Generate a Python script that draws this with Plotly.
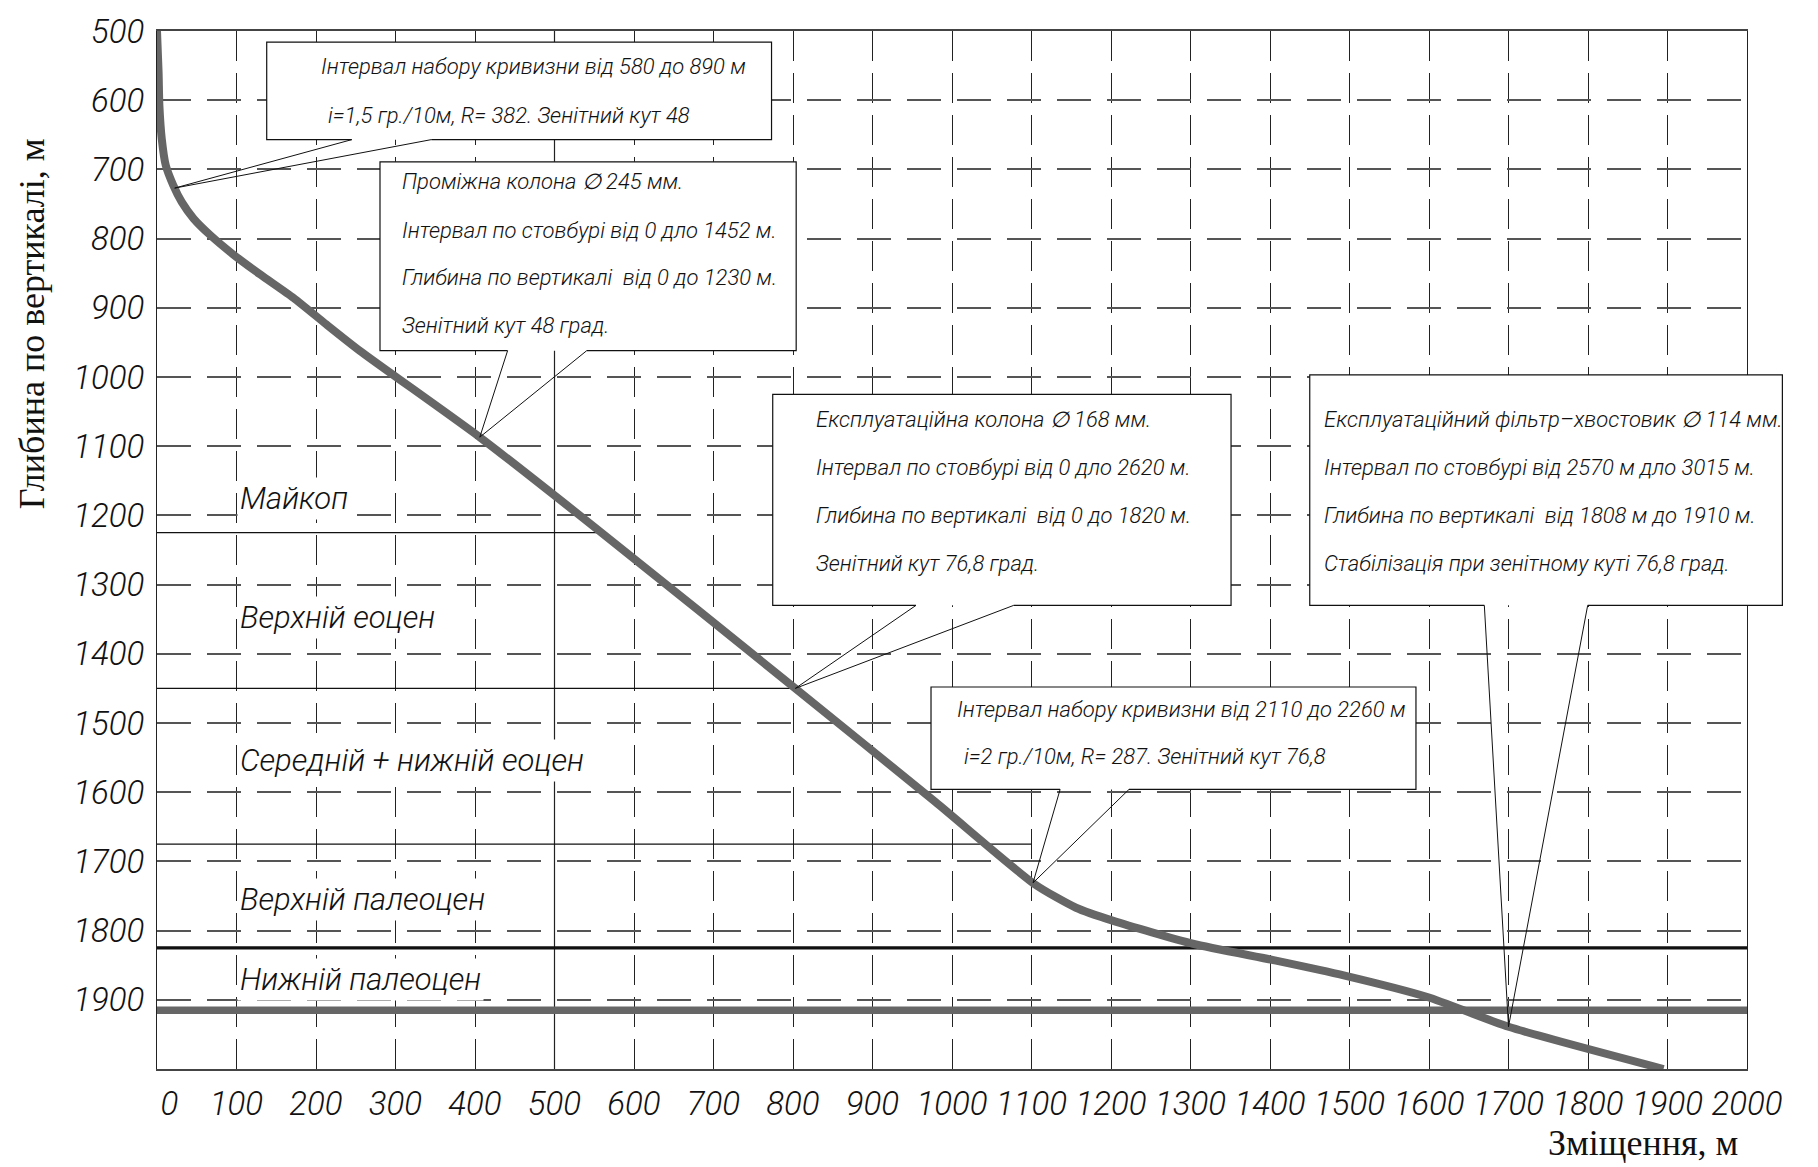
import numpy as np
import plotly.graph_objects as go

# ---- Well trajectory: horizontal offset (m) vs true vertical depth (m) ----
offset_m = [0, 2, 3, 6, 11, 20.5, 31, 46, 67, 96, 130, 172, 213, 255, 406, 557,
            804, 979, 1104, 1156, 1203, 1303, 1406, 1494, 1598, 1700, 1895]
depth_m = [500, 560, 608, 656, 694, 723, 747, 771, 795, 823, 852, 886, 924, 962, 1087, 1223,
           1451, 1614, 1733, 1767, 1786, 1819, 1843, 1865, 1896, 1939, 2000]

# ---- Stratigraphy ----
formation_names = ["Майкоп", "Верхній еоцен", "Середній + нижній еоцен",
                   "Верхній палеоцен", "Нижній палеоцен"]
formation_label_depth = [1175, 1348, 1554, 1755, 1871]
formation_label_offset = [100, 100, 100, 100, 100]
formation_base_depth = [1225, 1450, 1675, 1825, 1915]
formation_base_extent = [557, 804, 1100, 2000, 2000]

# ---- Axis ticks ----
x_ticks = list(range(0, 2001, 100))
x_ticktext = ["\u2007\u20090"] + [str(v) for v in x_ticks[1:]]
y_ticks = list(range(500, 1901, 100))
X_RANGE = [0, 2000]
Y_RANGE = [2000, 500]

# ---- Callouts (text, tip depth on the trajectory) ----
callout_text = [
    ["Інтервал набору кривизни від 580 до 890 м",
     "і=1,5 гр./10м, R= 382. Зенітний кут 48"],
    ["Проміжна колона ∅ 245 мм.",
     "Інтервал по стовбурі від 0 дло 1452 м.",
     "Глибина по вертикалі\u00a0 від 0 до 1230 м.",
     "Зенітний кут 48 град."],
    ["Експлуатаційна колона ∅ 168 мм.",
     "Інтервал по стовбурі від 0 дло 2620 м.",
     "Глибина по вертикалі\u00a0 від 0 до 1820 м.",
     "Зенітний кут 76,8 град."],
    ["Експлуатаційний фільтр–хвостовик ∅ 114 мм.",
     "Інтервал по стовбурі від 2570 м дло 3015 м.",
     "Глибина по вертикалі\u00a0 від 1808 м до 1910 м.",
     "Стабілізація при зенітному куті 76,8 град."],
    ["Інтервал набору кривизни від 2110 до 2260 м",
     "і=2 гр./10м, R= 287. Зенітний кут 76,8"],
]
callout_tip_depth = [727, 1087, 1450, 1939, 1731]

# Callout box placement (axis units)
box_x0 = [138, 280.5, 774.5, 1450, 973.6]
box_x1 = [773, 804, 1351, 2044.5, 1583.6]
box_top = [516, 689, 1025, 997, 1448]
box_bottom = [657, 962, 1330, 1330, 1596]
box_base_a = [245, 441, 954.7, 1669.6, 1136]
box_base_b = [345, 540.5, 1077.6, 1799.6, 1222.6]
text_x = [[203.5, 213], [306] * 4, [826.5] * 4, [1465] * 4, [1004, 1012.6]]
text_y = [[551, 622], [717, 789, 856, 925], [1061, 1131, 1200, 1269],
          [1061, 1131, 1200, 1269], [1480, 1548]]

CAD_FONT = "Roboto, 'Open Sans', 'Liberation Sans', sans-serif"
SERIF_FONT = "'Liberation Serif', 'DejaVu Serif', serif"


def xp(v):
    """Axis value -> paper fraction along x."""
    return (v - X_RANGE[0]) / (X_RANGE[1] - X_RANGE[0])


def yp(v):
    """Axis value -> paper fraction along y (reversed axis)."""
    return (Y_RANGE[0] - v) / (Y_RANGE[0] - Y_RANGE[1])


fig = go.Figure()

# Formation boundaries
for i, d in enumerate(formation_base_depth):
    if i == 3:
        style = dict(color="#111111", width=3.2)
    elif i == 4:
        style = dict(color="#666666", width=7.5)
    else:
        style = dict(color="#111111", width=1.2)
    fig.add_trace(go.Scatter(x=[0, formation_base_extent[i]], y=[d, d], mode="lines",
                             line=style, hoverinfo="skip", showlegend=False))

# Trajectory
fig.add_trace(go.Scatter(x=offset_m, y=depth_m, mode="lines",
                         line=dict(color="#666666", width=8, shape="spline", smoothing=0.6),
                         hoverinfo="skip", showlegend=False))

shapes = []
# solid grid line at 500 m offset
shapes.append(dict(type="line", xref="x", yref="paper", x0=500, x1=500, y0=0, y1=1,
                   line=dict(color="#222222", width=1.2), layer="below"))

annotations = []
for k in range(len(callout_text)):
    bx0, bx1, bt, bb = xp(box_x0[k]), xp(box_x1[k]), yp(box_top[k]), yp(box_bottom[k])
    ba, bbp = xp(box_base_a[k]), xp(box_base_b[k])
    # white box body
    shapes.append(dict(type="rect", xref="paper", yref="paper", x0=bx0, x1=bx1, y0=bb, y1=bt,
                       fillcolor="white", line=dict(width=0), layer="above"))
    # outline with an opening for the pointer
    path = (f"M {ba},{bb} L {bx0},{bb} L {bx0},{bt} L {bx1},{bt} "
            f"L {bx1},{bb} L {bbp},{bb}")
    shapes.append(dict(type="path", xref="paper", yref="paper", path=path,
                       line=dict(color="#111111", width=1.2), fillcolor="rgba(0,0,0,0)",
                       layer="above"))
    # pointer wedge to the trajectory
    tip_d = callout_tip_depth[k]
    tip_x = float(np.interp(tip_d, depth_m, offset_m))
    wedge = (f"M {box_base_a[k]},{box_bottom[k]} L {tip_x},{tip_d} "
             f"L {box_base_b[k]},{box_bottom[k]}")
    shapes.append(dict(type="path", xref="x", yref="y", path=wedge,
                       line=dict(color="#111111", width=1), fillcolor="rgba(0,0,0,0)",
                       layer="above"))
    for j, line in enumerate(callout_text[k]):
        annotations.append(dict(x=text_x[k][j], y=text_y[k][j], xref="x", yref="y",
                                text=line, showarrow=False, xanchor="left", yanchor="middle",
                                font=dict(family=CAD_FONT, size=22, color="#111111",
                                          style="italic", weight=300)))

# Formation labels
for name, d, x in zip(formation_names, formation_label_depth, formation_label_offset):
    annotations.append(dict(x=x, y=d, xref="x", yref="y", text=name, showarrow=False,
                            xanchor="left", yanchor="middle", bgcolor="white", borderpad=2,
                            font=dict(family=CAD_FONT, size=31, color="#111111",
                                      style="italic", weight=300)))

# Axis titles
annotations.append(dict(x=-0.0786, y=0.7175, xref="paper", yref="paper",
                        text="Глибина по вертикалі, м", textangle=-90, showarrow=False,
                        xanchor="center", yanchor="middle",
                        font=dict(family=SERIF_FONT, size=36, color="#111111")))
annotations.append(dict(x=0.9346, y=-0.0715, xref="paper", yref="paper",
                        text="Зміщення, м", showarrow=False,
                        xanchor="center", yanchor="middle",
                        font=dict(family=SERIF_FONT, size=36, color="#111111")))

tick_font = dict(family=CAD_FONT, size=33, color="#111111", style="italic", weight=300)

fig.update_layout(
    width=1818, height=1167,
    margin=dict(l=157, r=71, t=25, b=98),
    plot_bgcolor="white", paper_bgcolor="white",
    showlegend=False,
    shapes=shapes, annotations=annotations,
    xaxis=dict(range=X_RANGE, tickvals=x_ticks, ticktext=x_ticktext,
               showgrid=True, gridcolor="#222222", gridwidth=1, griddash="30px,12px",
               showline=True, linecolor="#444444", linewidth=2, mirror=True,
               ticks="", zeroline=False, tickfont=tick_font, ticklabelstandoff=4),
    yaxis=dict(range=Y_RANGE, tickvals=y_ticks, ticktext=[str(v) for v in y_ticks],
               showgrid=True, gridcolor="#555555", gridwidth=1.5, griddash="34px,16px",
               showline=True, linecolor="#222222", linewidth=1.3, mirror=True,
               ticks="", zeroline=False, tickfont=tick_font, ticklabelstandoff=5),
)

fig.write_html("out.html")
